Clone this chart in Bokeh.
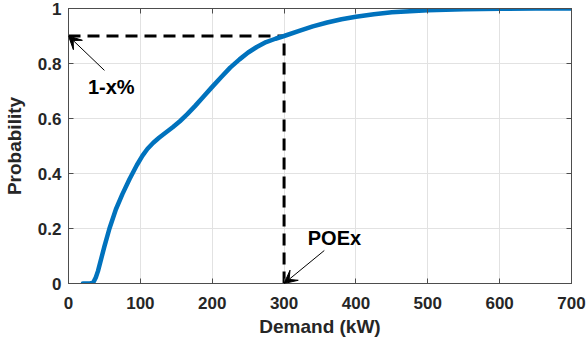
from bokeh.plotting import figure
from bokeh.models import (Range1d, FixedTicker, LinearAxis, Arrow, VeeHead, Label)
from bokeh.embed import file_html
from bokeh.resources import INLINE

# CDF data
demand_kw = [20, 30, 33, 35, 38, 41, 45, 50, 57, 66, 75, 85, 95, 103, 110, 118,
             126, 135, 145, 155, 165, 176, 188, 200, 213, 225, 238, 250, 262,
             275, 288, 300, 320, 340, 360, 380, 400, 425, 450, 475, 500, 550,
             600, 650, 700]
probability = [0.0, 0.0, 0.002, 0.006, 0.022, 0.045, 0.085, 0.135, 0.2, 0.27,
               0.325, 0.38, 0.43, 0.465, 0.49, 0.512, 0.53, 0.548, 0.568, 0.59,
               0.615, 0.645, 0.68, 0.715, 0.752, 0.785, 0.815, 0.84, 0.86,
               0.878, 0.89, 0.9, 0.918, 0.935, 0.949, 0.961, 0.97, 0.979, 0.986,
               0.99, 0.994, 0.997, 0.999, 1.0, 1.0]

poe_x = 300
poe_p = 0.9
x_ticks = [0, 100, 200, 300, 400, 500, 600, 700]
y_ticks = [0, 0.2, 0.4, 0.6, 0.8, 1]
y_tick_labels = ["0", "0.2", "0.4", "0.6", "0.8", "1"]

# annotation anchors (data coords)
label1_text = "1-x%"
label1_xy = (27, 0.715)
arrow1_tail = (50, 0.775)
label2_text = "POEx"
label2_xy = (333, 0.165)
arrow2_tail = (356, 0.12)

FONT = "Liberation Sans"
TXT = "#262626"
AX = "#4d4d4d"

p = figure(width=588, height=349, output_backend="svg", toolbar_location=None,
           x_range=Range1d(0, 700), y_range=Range1d(0, 1),
           min_border_left=65, min_border_right=17, min_border_top=8,
           min_border_bottom=66)
p.background_fill_color = "white"
p.border_fill_color = "white"
p.outline_line_color = AX
p.outline_line_width = 1

p.xgrid.ticker = FixedTicker(ticks=x_ticks)
p.ygrid.ticker = FixedTicker(ticks=y_ticks)
p.grid.grid_line_color = "#e2e2e2"
p.grid.grid_line_width = 1

for ax in p.xaxis:
    ax.ticker = FixedTicker(ticks=x_ticks)
    ax.axis_label = "Demand (kW)"
    ax.major_label_standoff = 13
    ax.axis_label_standoff = 4
for ax in p.yaxis:
    ax.ticker = FixedTicker(ticks=y_ticks)
    ax.major_label_overrides = {t: s for t, s in zip(y_ticks, y_tick_labels)}
    ax.axis_label = "Probability"
    ax.major_label_standoff = 7
    ax.axis_label_standoff = 10

for ax in p.xaxis + p.yaxis:
    ax.axis_line_color = AX
    ax.major_tick_line_color = AX
    ax.major_tick_in = 5
    ax.major_tick_out = 0
    ax.minor_tick_line_color = None
    ax.major_label_text_font = FONT
    ax.major_label_text_font_style = "bold"
    ax.major_label_text_font_size = "17px"
    ax.major_label_text_color = TXT
    ax.axis_label_text_font = FONT
    ax.axis_label_text_font_style = "bold"
    ax.axis_label_text_font_size = "19px"
    ax.axis_label_text_color = TXT

# box axes (top / right) with inward ticks and no labels
top_ax = LinearAxis(ticker=FixedTicker(ticks=x_ticks),
                    major_label_overrides={t: "" for t in x_ticks},
                    major_tick_in=5, major_tick_out=0, minor_tick_line_color=None,
                    axis_line_color=AX, major_tick_line_color=AX,
                    major_label_standoff=0)
right_ax = LinearAxis(ticker=FixedTicker(ticks=y_ticks),
                      major_label_overrides={t: "" for t in y_ticks},
                      major_tick_in=5, major_tick_out=0, minor_tick_line_color=None,
                      axis_line_color=AX, major_tick_line_color=AX,
                      major_label_standoff=0)
p.add_layout(top_ax, "above")
p.add_layout(right_ax, "right")

# dashed guide lines
p.line([0, poe_x], [poe_p, poe_p], line_color="black", line_width=3, line_dash="12 7")
p.line([poe_x, poe_x], [0, poe_p], line_color="black", line_width=3, line_dash="12 7")

# CDF curve
p.line(demand_kw, probability, line_color="#0072BD", line_width=4.5,
       line_join="round", line_cap="round")

# annotations
p.add_layout(Arrow(end=VeeHead(size=13, fill_color="black", line_color="black"),
                   x_start=arrow1_tail[0], y_start=arrow1_tail[1],
                   x_end=0, y_end=poe_p, line_color="black", line_width=1))
p.add_layout(Arrow(end=VeeHead(size=13, fill_color="black", line_color="black"),
                   x_start=arrow2_tail[0], y_start=arrow2_tail[1],
                   x_end=poe_x, y_end=0, line_color="black", line_width=1))
p.add_layout(Label(x=label1_xy[0], y=label1_xy[1], text=label1_text,
                   text_font=FONT, text_font_style="bold", text_font_size="20px",
                   text_baseline="middle", text_color="black"))
p.add_layout(Label(x=label2_xy[0], y=label2_xy[1], text=label2_text,
                   text_font=FONT, text_font_style="bold", text_font_size="20px",
                   text_baseline="middle", text_color="black"))

open("out.html", "w").write(file_html(p, INLINE))
